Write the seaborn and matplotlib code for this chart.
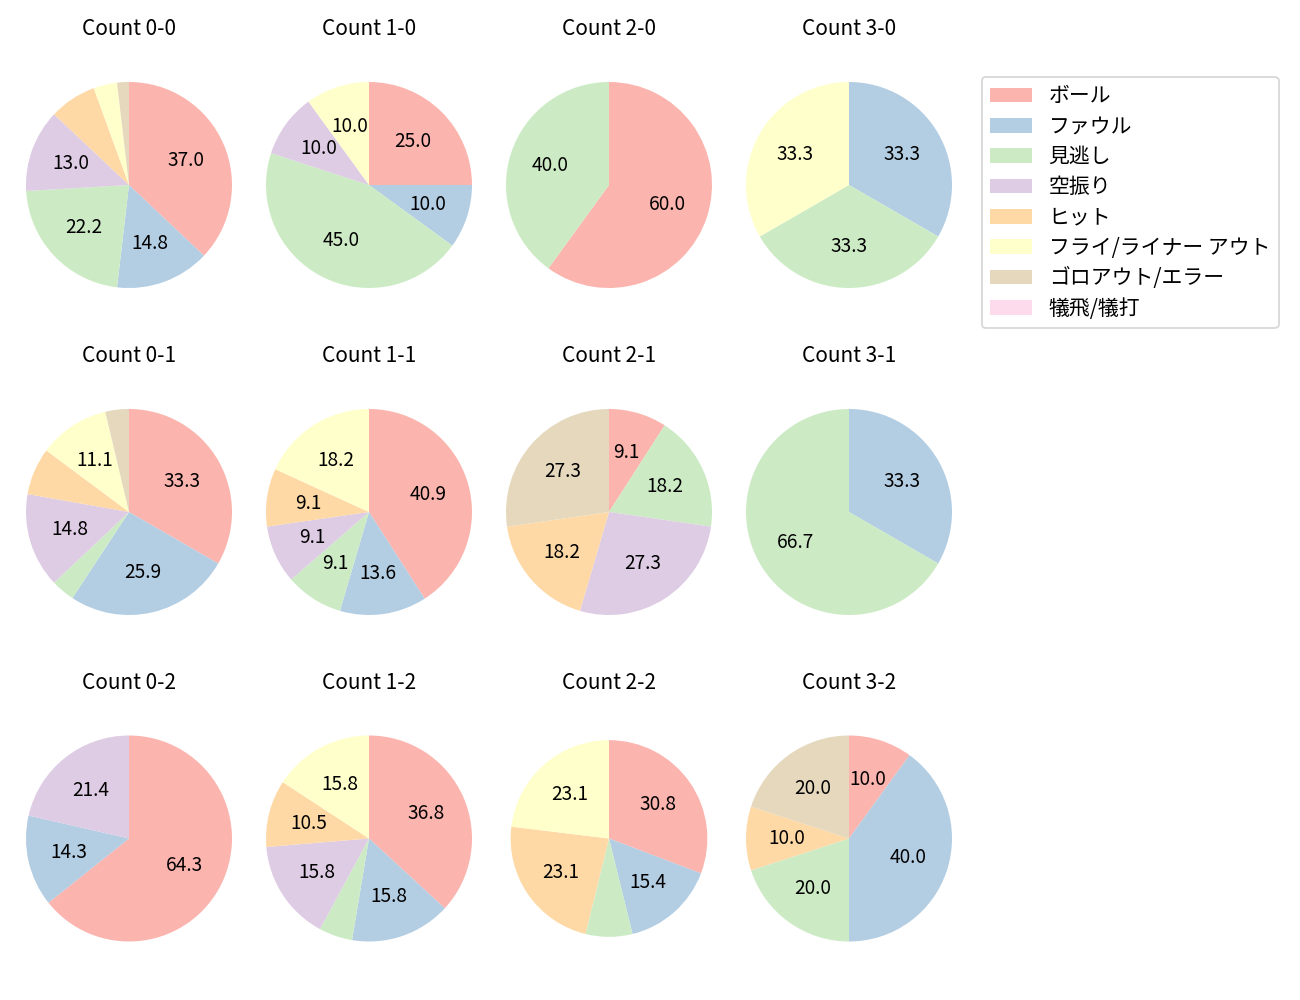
import matplotlib
matplotlib.use("Agg")
import matplotlib.pyplot as plt
from matplotlib.patches import Patch
import seaborn as sns

# ---- data ----
categories = ["ボール", "ファウル", "見逃し", "空振り", "ヒット",
              "フライ/ライナー アウト", "ゴロアウト/エラー", "犠飛/犠打"]

count_labels = ["0-0", "1-0", "2-0", "3-0",
                "0-1", "1-1", "2-1", "3-1",
                "0-2", "1-2", "2-2", "3-2"]

c_0_0 = [20, 8, 12, 7, 4, 2, 1, 0]
c_1_0 = [5, 2, 9, 2, 0, 2, 0, 0]
c_2_0 = [3, 0, 2, 0, 0, 0, 0, 0]
c_3_0 = [0, 1, 1, 0, 0, 1, 0, 0]
c_0_1 = [9, 7, 1, 4, 2, 3, 1, 0]
c_1_1 = [9, 3, 2, 2, 2, 4, 0, 0]
c_2_1 = [1, 0, 2, 3, 2, 0, 3, 0]
c_3_1 = [0, 1, 2, 0, 0, 0, 0, 0]
c_0_2 = [9, 2, 0, 3, 0, 0, 0, 0]
c_1_2 = [7, 3, 1, 3, 2, 3, 0, 0]
c_2_2 = [4, 2, 1, 0, 3, 3, 0, 0]
c_3_2 = [1, 4, 2, 0, 1, 0, 2, 0]

series = [c_0_0, c_1_0, c_2_0, c_3_0,
          c_0_1, c_1_1, c_2_1, c_3_1,
          c_0_2, c_1_2, c_2_2, c_3_2]

# ---- style ----
sns.set_style("white")
plt.rcParams["font.family"] = ["Noto Sans CJK JP", "DejaVu Sans"]
plt.rcParams["text.color"] = "black"
colors = sns.color_palette("Pastel1", len(categories))

W, H = 1300, 1000
fig = plt.figure(figsize=(10.4, 8), dpi=125)

side = 257.5          # axes side in px (pie radius ~103 px)
col_x = [129, 369, 609, 849]
row_y = [185, 512, 838.5]
radius_scale = {"2-2": 0.955}


def fmt(p):
    return f"{p:.1f}" if p >= 9 else ""


for i, (lab, vals) in enumerate(zip(count_labels, series)):
    r, c = divmod(i, 4)
    cx, cy = col_x[c], row_y[r]
    ax = fig.add_axes([(cx - side / 2) / W, 1 - (cy + side / 2) / H,
                       side / W, side / H])
    ax.pie(vals, colors=colors, startangle=90, counterclock=False,
           autopct=fmt, pctdistance=0.6,
           radius=radius_scale.get(lab, 1.0),
           wedgeprops={"linewidth": 0},
           textprops={"fontsize": 11, "color": "black"})
    ax.set_xlim(-1.25, 1.25)
    ax.set_ylim(-1.25, 1.25)
    ax.set_title(f"Count {lab}", fontsize=12, pad=12, color="black")

handles = [Patch(facecolor=col, linewidth=0) for col in colors]
fig.legend(handles, categories, loc="upper left",
           bbox_to_anchor=(982 / W, 1 - 77 / H), borderaxespad=0,
           labelspacing=0.4, fontsize=12, labelcolor="black")

fig.savefig("out.png", dpi=125)
